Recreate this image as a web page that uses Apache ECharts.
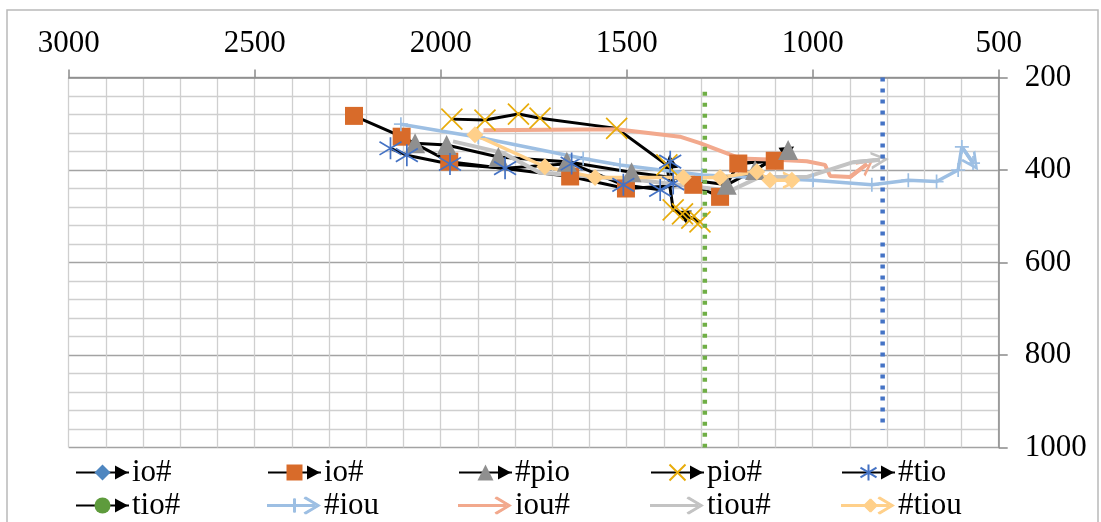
<!DOCTYPE html>
<html>
<head>
<meta charset="utf-8">
<script src="https://cdn.jsdelivr.net/npm/echarts@6/dist/echarts.min.js"></script>
<style>
  html, body { margin: 0; padding: 0; background: #fff; }
  #chart { width: 1101px; height: 522px; }
</style>
</head>
<body>
<div id="chart"></div>
<script>
// Axis ranges (x reversed on top, y inverted on the right)
const xRange = [500, 3000];
const yRange = [200, 1000];

// Series point lists as [x, y]
const ioDiamond = [];
const ioSquare = [[2233, 283], [2105, 328], [1977, 382], [1652, 414], [1502, 440], [1321, 432], [1249, 458], [1200, 386], [1102, 380]];
const pioTriangle = [[2069, 342], [1984, 346], [1845, 372], [1661, 382], [1487, 405], [1231, 432], [1155, 400], [1066, 357]];
const pioCross = [[1970, 290], [1881, 292], [1791, 279], [1733, 288], [1527, 310], [1392, 389], [1375, 486], [1325, 504], [1303, 512], [1350, 495]];
const tioStar = [[2135, 353], [2091, 368], [1975, 387], [1827, 396], [1648, 386], [1509, 432], [1410, 443], [1375, 429], [1383, 382]];
const tioCircle = [];
const iouPlus = [[2107, 301], [1899, 329], [1617, 375], [1518, 389], [1298, 411], [999, 422], [841, 432], [743, 422], [667, 425], [609, 400], [599, 350], [569, 385]];
const iouLine = [[1885, 314], [1527, 312], [1357, 328], [1303, 342], [1195, 375], [1097, 378], [1016, 381], [967, 389], [953, 413], [899, 415], [854, 387]];
const tiouLine = [[1967, 338], [1833, 363], [1733, 406], [1464, 422], [1222, 445], [1142, 415], [1015, 415], [891, 383], [819, 378]];
const tiouDiamond = [[1908, 324], [1720, 393], [1585, 416], [1348, 416], [1249, 416], [1150, 404], [1115, 422], [1056, 422]];

// Vertical dotted reference lines
const greenRef = [[1290, 231], [1290, 1000]];
const blueRef = [[812, 200], [812, 962]];

// Legend columns (two rows each)
const legendColumns = [
  ['io#', 'tio#'],
  ['io# ', '#iou'],
  ['#pio', 'iou#'],
  ['pio#', 'tiou#'],
  ['#tio', '#tiou']
];
const legendLeft = [75, 267, 458, 650, 841];

const FONT = 'Liberation Serif';

const SYM_CROSS = 'path://M0,0L20,20M20,0L0,20';
const SYM_STAR = 'path://M10,0L10,20M1,4L19,16M1,16L19,4';
const SYM_PLUS = 'path://M10,0L10,20M0,10L20,10';
const ARROW_SOLID = 'path://M6,0L12,12L0,12Z';
const ARROW_OPEN = 'path://M0,12L6,0L12,12L10,12L6,4L2,12Z';

// Legend icon pieces in a 53 x 20 box (corner stubs pin the box size)
const BOX = 'M0,0L0.01,0Z M53,20L52.99,20Z ';
const ICON_LINE = 'M0,8.5L47,8.5L47,11.5L0,11.5Z ';
const ICON_CHEVRON = 'M38,1L53,10L38,19L36.5,17L48.5,10L36.5,3Z ';
const ICON_PLUS = 'M26,3L28,3L28,17L26,17Z ';
const ICON_DIAMOND = 'M29,3L36,10L29,17L22,10Z ';
const ICON_HEAD = 'M40,3L53,10L40,17Z ';
const ICON_SOLID_HEAD = 'path://' + BOX + ICON_HEAD;

const defs = [
  { name: 'io#', data: ioDiamond, line: '#000', marker: '#4E86C0', symbol: 'diamond', size: 18, width: 3, arrow: ARROW_SOLID },
  { name: 'io# ', data: ioSquare, line: '#000', marker: '#D86B2A', symbol: 'rect', size: 18, width: 3, arrow: ARROW_SOLID },
  { name: '#pio', data: pioTriangle, line: '#000', marker: '#8F8F8F', symbol: 'triangle', size: 20, width: 3, arrow: ARROW_SOLID },
  { name: 'pio#', data: pioCross, line: '#000', marker: '#E8AC0A', symbol: SYM_CROSS, size: 21, width: 3, stroke: true, arrow: ARROW_SOLID },
  { name: '#tio', data: tioStar, line: '#000', marker: '#4472C4', symbol: SYM_STAR, size: 22, width: 3, stroke: true, arrow: ARROW_SOLID },
  { name: 'tio#', data: tioCircle, line: '#000', marker: '#5E9B3C', symbol: 'circle', size: 14, width: 3, arrow: ARROW_SOLID },
  { name: '#iou', data: iouPlus, line: '#9DBFE3', marker: '#9DBFE3', symbol: SYM_PLUS, size: 14, width: 3.5, stroke: true, arrow: ARROW_OPEN,
    icon: 'path://' + BOX + ICON_LINE + ICON_PLUS + ICON_CHEVRON },
  { name: 'iou#', data: iouLine, line: '#F2A98D', marker: '#F2A98D', symbol: 'none', size: 0, width: 4, arrow: ARROW_OPEN,
    icon: 'path://' + BOX + ICON_LINE + ICON_CHEVRON },
  { name: 'tiou#', data: tiouLine, line: '#C3C3C3', marker: '#C3C3C3', symbol: 'none', size: 0, width: 4, arrow: ARROW_OPEN,
    icon: 'path://' + BOX + ICON_LINE + ICON_CHEVRON },
  { name: '#tiou', data: tiouDiamond, line: '#FFD08A', marker: '#FFD08A', symbol: 'diamond', size: 17, width: 3.5, arrow: ARROW_OPEN,
    icon: 'path://' + BOX + ICON_LINE + ICON_DIAMOND + ICON_CHEVRON }
];
const defByName = Object.fromEntries(defs.map(d => [d.name, d]));

const lineSeries = defs.map(d => ({
  type: 'line',
  name: d.name,
  data: d.data,
  symbol: d.symbol,
  symbolSize: d.size,
  showSymbol: d.symbol !== 'none',
  lineStyle: { color: d.line, width: d.width },
  itemStyle: d.stroke
    ? { color: 'rgba(0,0,0,0)', borderColor: d.marker, borderWidth: 1.7 }
    : { color: d.marker, borderWidth: 0 },
  emphasis: { disabled: true },
  animation: false,
  z: 3
}));

// Arrow heads on the final segment of each drawn series
const arrowSeries = defs.filter(d => d.data.length > 1).map(d => ({
  type: 'lines',
  coordinateSystem: 'cartesian2d',
  symbol: ['none', d.arrow],
  symbolSize: d.arrow === ARROW_SOLID ? 14 : 18,
  lineStyle: { color: d.line, width: d.width, opacity: 1, curveness: 0 },
  data: [{ coords: d.data.slice(-2) }],
  silent: true,
  animation: false,
  z: 2
}));

const refSeries = [
  { data: greenRef, color: '#6FAE45' },
  { data: blueRef, color: '#4473C5' }
].map(r => ({
  type: 'line',
  data: r.data,
  symbol: 'none',
  lineStyle: { color: r.color, width: 4.5, type: [4, 7], cap: 'butt' },
  silent: true,
  animation: false,
  z: 4
}));

const plain = v => String(v);

const legendText = { fontFamily: FONT, fontSize: 31, color: '#000', lineHeight: 33, padding: [0, 0, 0, -2] };
const legendBase = {
  orient: 'vertical',
  top: 456,
  padding: 0,
  itemWidth: 53,
  itemHeight: 20,
  itemGap: 0,
  selectedMode: false,
  formatter: n => n.trim()
};

// Main legend: line with marker (or full custom icon for the light series)
const mainLegends = legendColumns.map((names, i) => ({
  ...legendBase,
  left: legendLeft[i],
  data: names.map(n => {
    const d = defByName[n];
    return d.icon ? { name: n, icon: d.icon, itemStyle: { color: d.line, borderWidth: 0 } } : { name: n };
  }),
  textStyle: legendText
}));

// Overlay legend: adds the black arrow head to the black-line entries
const headLegends = legendColumns.map((names, i) => ({
  ...legendBase,
  left: legendLeft[i],
  z: 5,
  data: names.map(n => {
    const d = defByName[n];
    return d.icon
      ? { name: n, icon: d.icon, itemStyle: { color: d.line, borderWidth: 0 } }
      : { name: n, icon: ICON_SOLID_HEAD, itemStyle: { color: '#000', borderWidth: 0 } };
  }),
  textStyle: { ...legendText, color: 'rgba(0,0,0,0)' }
}));

const chart = echarts.init(document.getElementById('chart'));
chart.setOption({
  backgroundColor: '#fff',
  animation: false,
  grid: { left: 68.7, top: 77.5, width: 930, height: 370, containLabel: false },
  xAxis: {
    type: 'value',
    position: 'top',
    inverse: true,
    min: xRange[0],
    max: xRange[1],
    interval: 500,
    axisLine: { show: true, lineStyle: { color: '#8a8a8a', width: 1.5 } },
    axisTick: { show: true, inside: false, length: 8, lineStyle: { color: '#8a8a8a', width: 1.5 } },
    axisLabel: { margin: 18, fontFamily: FONT, fontSize: 31, color: '#000', formatter: plain },
    splitLine: { show: true, lineStyle: { color: '#cfcfcf', width: 1.3 } },
    minorTick: { show: false, splitNumber: 5 },
    minorSplitLine: { show: true, lineStyle: { color: '#cfcfcf', width: 1.3 } }
  },
  yAxis: {
    type: 'value',
    position: 'right',
    inverse: true,
    min: yRange[0],
    max: yRange[1],
    interval: 200,
    axisLine: { show: true, lineStyle: { color: '#8a8a8a', width: 1.5 } },
    axisTick: { show: true, inside: false, length: 9, lineStyle: { color: '#8a8a8a', width: 1.5 } },
    axisLabel: { margin: 26, fontFamily: FONT, fontSize: 31, color: '#000', align: 'left', formatter: plain },
    splitLine: { show: true, lineStyle: { color: '#a3a3a3', width: 1.3 } },
    minorTick: { show: false, splitNumber: 5 },
    minorSplitLine: { show: true, lineStyle: { color: '#cfcfcf', width: 1.3 } }
  },
  legend: [...mainLegends, ...headLegends],
  graphic: [{
    type: 'rect',
    shape: { x: 7, y: 10, width: 1091, height: 530 },
    style: { fill: 'none', stroke: '#b9b9b9', lineWidth: 1.5 },
    silent: true,
    z: -1
  }],
  series: [...lineSeries, ...arrowSeries, ...refSeries]
});
</script>
</body>
</html>
